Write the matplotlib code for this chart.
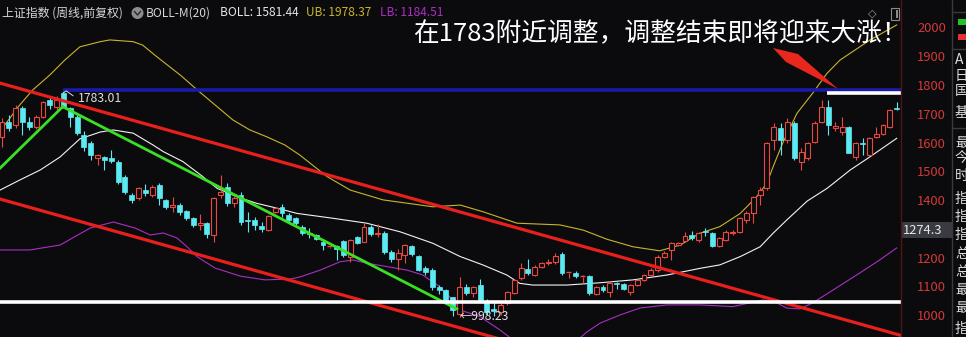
import matplotlib
matplotlib.use('Agg')
import matplotlib.pyplot as plt
from matplotlib.patches import Rectangle, Polygon, Ellipse
from matplotlib.lines import Line2D
from matplotlib.transforms import blended_transform_factory

plt.rcParams['font.family'] = ['Noto Sans CJK SC', 'DejaVu Sans']

# ── 周线K线 (开, 高, 低, 收) ──
opens = [1626, 1678, 1666, 1725, 1678, 1660, 1695, 1753, 1730, 1776,
         1725, 1695, 1632, 1603, 1550, 1555, 1551, 1539, 1487, 1423,
         1413, 1440, 1423, 1458, 1406, 1380, 1388, 1367, 1342, 1319,
         1327, 1284, 1423, 1452, 1394, 1423, 1334, 1336, 1315, 1301,
         1365, 1380, 1353, 1342, 1312, 1292, 1284, 1261, 1241, 1245,
         1262, 1209, 1276, 1261, 1311, 1288, 1290, 1226, 1199, 1214,
         1246, 1211, 1168, 1162, 1102, 1093, 1067, 1010, 1104, 1081,
         1110, 1055, 1025, 1017, 1047, 1081, 1133, 1165, 1145, 1174,
         1186, 1191, 1218, 1152, 1153, 1139, 1141, 1079, 1102, 1087,
         1118, 1114, 1087, 1110, 1128, 1145, 1162, 1209, 1232, 1249,
         1264, 1284, 1267, 1299, 1292, 1246, 1267, 1292, 1295, 1336,
         1359, 1423, 1446, 1614, 1655, 1614, 1672, 1539, 1550, 1608,
         1678, 1730, 1655, 1643, 1660, 1556, 1605, 1562, 1624, 1635,
         1660, 1726]
highs = [1690, 1700, 1735, 1732, 1695, 1700, 1750, 1765, 1768, 1783.01,
         1730, 1700, 1645, 1610, 1566, 1560, 1580, 1545, 1492, 1430,
         1450, 1462, 1458, 1465, 1410, 1417, 1395, 1370, 1345, 1357,
         1330, 1417, 1492, 1465, 1420, 1435, 1365, 1345, 1330, 1352,
         1380, 1390, 1360, 1348, 1318, 1308, 1288, 1267, 1247, 1250,
         1268, 1270, 1280, 1327, 1318, 1322, 1298, 1232, 1234, 1252,
         1250, 1215, 1175, 1170, 1110, 1096, 1070, 1139, 1115, 1106,
         1131, 1060, 1050, 1055, 1090, 1132, 1186, 1199, 1178, 1190,
         1199, 1222, 1225, 1156, 1160, 1145, 1145, 1106, 1110, 1125,
         1120, 1118, 1112, 1132, 1150, 1168, 1215, 1228, 1261, 1260,
         1295, 1299, 1296, 1307, 1295, 1276, 1300, 1303, 1345, 1368,
         1420, 1452, 1606, 1672, 1672, 1690, 1680, 1585, 1606, 1680,
         1753, 1753, 1678, 1695, 1663, 1608, 1620, 1625, 1660, 1670,
         1722, 1747]
lows = [1591, 1645, 1655, 1632, 1649, 1652, 1690, 1722, 1715, 1725,
        1660, 1630, 1575, 1545, 1527, 1510, 1534, 1462, 1425, 1395,
        1405, 1420, 1415, 1388, 1375, 1365, 1355, 1335, 1312, 1301,
        1272, 1261, 1411, 1385, 1380, 1318, 1295, 1300, 1295, 1298,
        1360, 1345, 1325, 1320, 1285, 1273, 1265, 1232, 1238, 1197,
        1208, 1190, 1252, 1258, 1282, 1278, 1218, 1190, 1162, 1187,
        1212, 1158, 1145, 1093, 1080, 1050, 1003, 998.23, 1075, 1070,
        1052, 1005, 1001, 1005, 1040, 1078, 1128, 1145, 1140, 1170,
        1178, 1182, 1145, 1133, 1133, 1117, 1075, 1075, 1087, 1070,
        1095, 1092, 1075, 1106, 1124, 1140, 1155, 1205, 1197, 1245,
        1260, 1268, 1258, 1280, 1242, 1242, 1264, 1285, 1292, 1325,
        1325, 1388, 1440, 1579, 1562, 1605, 1545, 1510, 1545, 1603,
        1672, 1632, 1645, 1632, 1568, 1545, 1562, 1560, 1620, 1630,
        1655, 1718]
closes = [1678, 1655, 1725, 1678, 1660, 1695, 1747, 1736, 1753, 1730,
          1695, 1637, 1591, 1562, 1562, 1545, 1542, 1469, 1434, 1406,
          1447, 1431, 1452, 1412, 1382, 1388, 1365, 1342, 1319, 1327,
          1287, 1411, 1434, 1394, 1411, 1330, 1332, 1319, 1304, 1350,
          1377, 1359, 1336, 1327, 1292, 1286, 1269, 1249, 1244, 1235,
          1214, 1267, 1257, 1311, 1287, 1292, 1226, 1199, 1220, 1249,
          1218, 1162, 1156, 1102, 1093, 1058, 1023, 1104, 1081, 1102,
          1058, 1015, 1020, 1041, 1087, 1128, 1168, 1151, 1174, 1186,
          1191, 1211, 1153, 1154, 1141, 1141, 1081, 1102, 1093, 1116,
          1114, 1095, 1110, 1128, 1145, 1162, 1209, 1223, 1255, 1255,
          1280, 1272, 1292, 1295, 1246, 1272, 1295, 1296, 1342, 1361,
          1417, 1440, 1603, 1660, 1614, 1678, 1550, 1574, 1603, 1672,
          1730, 1666, 1663, 1660, 1570, 1603, 1600, 1620, 1635, 1666,
          1718, 1722]

# ── BOLL 三条线 (按K线序号取点) ──
mid_x = [-0.3, 2.6, 5.6, 8.5, 11.4, 14.4, 16.3, 19.2, 22.1, 23.6, 26.5, 29.4,
         31.5, 34.4, 37.3, 40.3, 43.2, 48.5, 53.4, 58.3, 63.1, 67.1, 70.4,
         73.9, 75.8, 77.7, 82.7, 87.6, 92.4, 97.4, 102.2, 105.1, 108.1,
         111.0, 112.9, 114.9, 117.9, 120.8, 124.2, 127.1, 131.0]
mid_y = [1440, 1475, 1510, 1555, 1618, 1642, 1649, 1638, 1597, 1574, 1539, 1487,
         1446, 1417, 1394, 1377, 1359, 1342, 1325, 1295, 1255, 1209, 1180,
         1145, 1116, 1110, 1110, 1118, 1128, 1145, 1168, 1180, 1209,
         1243, 1290, 1336, 1402, 1446, 1510, 1556, 1620]
ub_x = [0.4, 2.6, 4.5, 7.0, 9.2, 11.4, 14.4, 15.8, 19.2, 20.6, 22.7, 26.1,
        28.6, 31.2, 33.8, 36.3, 38.8, 41.4, 43.6, 47.6, 51.0, 55.8, 63.1,
        67.1, 70.4, 75.4, 81.7, 85.1, 88.6, 92.4, 96.3, 99.3, 102.2, 105.1,
        108.1, 110.5, 112.0, 112.9, 114.3, 116.4, 118.7, 120.8, 122.7,
        127.1, 131.0]
ub_y = [1666, 1736, 1788, 1840, 1892, 1938, 1956, 1962, 1956, 1944, 1903, 1840,
        1788, 1736, 1684, 1649, 1625, 1597, 1562, 1487, 1440, 1406, 1382,
        1388, 1365, 1325, 1319, 1301, 1269, 1243, 1229, 1249, 1290, 1313,
        1359, 1417, 1464, 1521, 1603, 1707, 1777, 1846, 1892,
        1962, 2014]
lb_x = [-0.3, 4.1, 8.5, 12.9, 16.3, 19.5, 21.7, 23.6, 25.6, 27.1, 28.6, 31.2,
        34.9, 38.5, 42.2, 43.6, 46.6, 49.5, 51.4, 53.4, 56.4, 59.3, 61.6,
        64.1, 66.0, 67.1, 70.0, 72.9, 75.8, 80.2, 83.9, 85.7, 87.6, 90.5,
        93.4, 97.4, 102.2, 107.0, 111.4, 113.2, 114.9, 116.8, 118.7, 121.7,
        125.6, 128.5, 131.0]
lb_y = [1232, 1232, 1249, 1308, 1329, 1308, 1284, 1291, 1274, 1243, 1208, 1169,
        1141, 1128, 1131, 1138, 1162, 1191, 1197, 1186, 1174, 1162, 1145,
        1104, 1058, 1023, 1000, 954, 902, 877, 912, 948, 978, 1006,
        1030, 1041, 1041, 1035, 1058, 1051, 1030, 1027, 1048, 1093,
        1152, 1197, 1239]

# ── 画线 (序号, 价格) ──
ch_up = [(-0.3, 1812), (131.6, 935)]
ch_dn = [(-0.3, 1409), (131.6, 532)]
green_up = [(-0.3, 1516), (8.9, 1730)]
green_dn = [(8.9, 1730), (66.6, 1027)]
blue_level = 1787
blue_from = 9.0
white_top_level = 1776
white_top_from = 120.8
white_bot_level = 1052

ticks = [2000, 1900, 1800, 1700, 1600, 1500, 1400, 1200, 1100, 1000]

BG = '#0b0b0e'
RED = '#e8483f'
CYAN = '#5ceaf2'
W, H = 966, 337


def fx(x):
    return x / W


def fy(y):
    return 1 - y / H


fig = plt.figure(figsize=(W / 100, H / 100), dpi=100, facecolor=BG)
ax = fig.add_axes([0, 0, 901 / W, 1], facecolor=BG)
ax.set_xlim(-0.29, 131.63)
ax.set_ylim(929.4, 2100.8)
ax.axis('off')

# BOLL
ax.plot(ub_x, ub_y, color='#c9b42c', lw=0.8, zorder=2)
ax.plot(mid_x, mid_y, color='#f2f2f2', lw=0.8, zorder=2)
ax.plot(lb_x, lb_y, color='#a82fc0', lw=0.8, zorder=2)

# K线
bw = 0.72
for i in range(len(opens)):
    o, h, l, c = opens[i], highs[i], lows[i], closes[i]
    top, bot = max(o, c), min(o, c)
    if c >= o:
        ax.vlines(i, top, h, color=RED, lw=0.8, zorder=3)
        ax.vlines(i, l, bot, color=RED, lw=0.8, zorder=3)
        if top - bot < 4:
            ax.hlines(c, i - bw / 2, i + bw / 2, color=RED, lw=1.0, zorder=4)
        else:
            ax.add_patch(Rectangle((i - bw / 2, bot), bw, top - bot,
                                   facecolor=BG, edgecolor=RED, lw=0.8, zorder=4))
    else:
        ax.vlines(i, l, h, color=CYAN, lw=0.8, zorder=3)
        ax.add_patch(Rectangle((i - bw / 2, bot), bw, max(top - bot, 3.5),
                               facecolor=CYAN, edgecolor=CYAN, lw=0.5, zorder=4))

# 通道和趋势线
ax.plot(*zip(*ch_up), color='#e8201c', lw=2.3, zorder=5)
ax.plot(*zip(*ch_dn), color='#e8201c', lw=2.3, zorder=5)
ax.plot(*zip(*green_up), color='#3ae024', lw=2.0, zorder=5)
ax.plot(*zip(*green_dn), color='#3ae024', lw=2.0, zorder=5)
ax.hlines(blue_level, blue_from, 131.63, color='#1a1aa8', lw=2.6, zorder=5)
ax.hlines(white_top_level, white_top_from, 131.63, color='white', lw=2.6, zorder=5)
ax.hlines(white_bot_level, -0.29, 131.63, color='white', lw=2.6, zorder=5)

# 高低点标注
ax.plot([9.0, 9.4, 10.4], [1778, 1785, 1768], color='#d8d8d8', lw=0.7, zorder=6)
ax.text(11.1, 1760, '1783.01', color='#e0e0e0', fontsize=8.8, va='center', zorder=6)
ax.text(67.0, 999, '←998.23', color='#e0e0e0', fontsize=8.8, va='center', zorder=6)

# 纵轴
tr = blended_transform_factory(fig.transFigure, ax.transData)
for p in ticks:
    fig.text(fx(946), p, str(p), transform=tr, ha='right', va='center',
             color='#d23a3a', fontsize=9.3)
fig.add_artist(Line2D([fx(901), fx(901)], [0, 1], color='#4c1616', lw=1.0))
fig.add_artist(Line2D([fx(952), fx(952)], [0, 1], color='#3a3a3e', lw=1.0))
fig.add_artist(Rectangle((fx(901), fy(238)), 51 / W, 16 / H, facecolor='#3a3a42',
                         edgecolor='none', transform=fig.transFigure))
fig.text(fx(903), fy(230.5), '1274.3', color='#e6e6e6', fontsize=9.3, va='center')

# 右侧面板 (原图只露出左半边)
for yy in [12, 49, 128]:
    fig.add_artist(Line2D([fx(952), 1], [fy(yy), fy(yy)], color='#3a3a3e', lw=1.0))
fig.add_artist(Rectangle((fx(958), fy(25)), 8 / W, 6 / H, facecolor='#22c424',
                         edgecolor='none', transform=fig.transFigure))
fig.add_artist(Rectangle((fx(958), fy(40)), 8 / W, 6 / H, facecolor='#e23232',
                         edgecolor='none', transform=fig.transFigure))
side = ['A', '日', '国', '基', '最', '今', '时', '指', '指', '指', '总', '总', '最', '最', '指']
side_y = [60, 76, 91, 113, 143, 158, 176, 199, 217, 235, 254, 272, 290, 308, 329]
for s, yy in zip(side, side_y):
    fig.text(fx(955), fy(yy), s, color='#dcdcdc', fontsize=10, va='center')

# 标题行
fig.text(fx(2), fy(13), '上证指数 (周线,前复权)', color='#d6d6d6', fontsize=8.6, va='center')
fig.add_artist(Ellipse((fx(137.5), fy(13)), 12 / W, 12 / H, facecolor='#8c8c8c',
                       edgecolor='none', transform=fig.transFigure))
fig.add_artist(Line2D([fx(134.5), fx(137.5), fx(140.5)], [fy(11.5), fy(15), fy(11.5)],
                      color='#2a2a2a', lw=1.0))
fig.text(fx(146), fy(13), 'BOLL-M(20)', color='#d6d6d6', fontsize=8.6, va='center')
fig.text(fx(220), fy(13), 'BOLL: 1581.44', color='#e6e6e6', fontsize=8.6, va='center')
fig.text(fx(306), fy(13), 'UB: 1978.37', color='#c9b42c', fontsize=8.6, va='center')
fig.text(fx(380), fy(13), 'LB: 1184.51', color='#b02cc8', fontsize=8.6, va='center')

# 右上角小图标
fig.text(fx(872), fy(14), '◇', color='#9a9a9a', fontsize=8, ha='center', va='center',
         family=['DejaVu Sans'])
fig.add_artist(Rectangle((fx(891), fy(20)), 8 / W, 12 / H, facecolor='none',
                         edgecolor='#8a8a8a', lw=0.8, transform=fig.transFigure))
fig.add_artist(Rectangle((fx(895.5), fy(18)), 2 / W, 8 / H, facecolor='#8a8a8a',
                         edgecolor='none', transform=fig.transFigure))

# 注释文字和红色箭头
fig.text(fx(413), fy(34), '在1783附近调整，调整结束即将迎来大涨！', color='white',
         fontsize=18.5, va='center')
arrow = [(773, 48), (798, 54), (838, 89), (786, 62)]
fig.add_artist(Polygon([(fx(a), fy(b)) for a, b in arrow], closed=True,
                       facecolor='#e8281e', edgecolor='none', transform=fig.transFigure))

fig.savefig('out.png', dpi=100, facecolor=BG)
